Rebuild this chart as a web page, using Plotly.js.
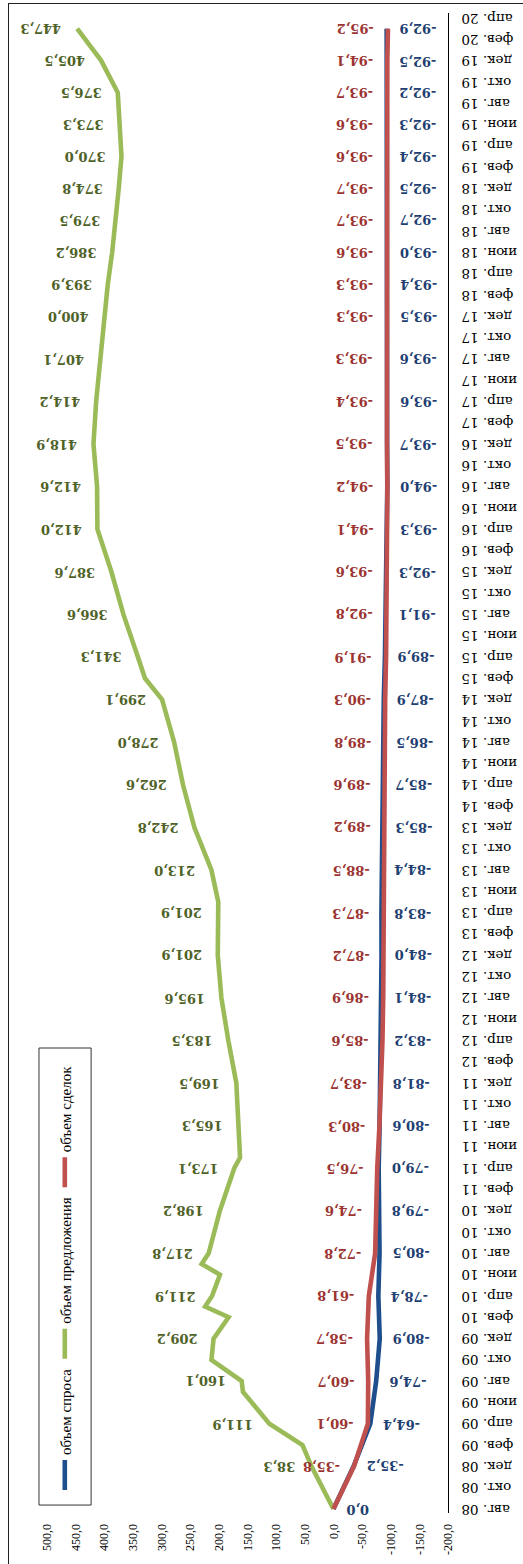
<!DOCTYPE html>
<html>
<head>
<meta charset="utf-8">
<script src="https://cdn.plot.ly/plotly-3.0.1.min.js"></script>
<style>
  html, body { margin: 0; padding: 0; background: #fff; overflow: hidden; }
  #frame {
    position: absolute; left: 8px; top: 3px; width: 600px; height: 1700px;
    border-left: 1.5px solid #222; border-top: 1.5px solid #222;
    pointer-events: none; z-index: 2;
  }
  /* the chart is laid out landscape and turned a quarter turn counter-clockwise */
  #chart {
    position: absolute; left: 0; top: 0; width: 1564px; height: 523px;
    transform-origin: 0 0; transform: translate(0, 1564px) rotate(-90deg);
  }
</style>
</head>
<body>
<div id="frame"></div>
<div id="chart"></div>
<script>
// Category labels of the time axis, one every two months from Aug 2008 to Apr 2020
const tickLabels = [
  "авг. 08","окт. 08","дек. 08",
  "фев. 09","апр. 09","июн. 09","авг. 09","окт. 09","дек. 09",
  "фев. 10","апр. 10","июн. 10","авг. 10","окт. 10","дек. 10",
  "фев. 11","апр. 11","июн. 11","авг. 11","окт. 11","дек. 11",
  "фев. 12","апр. 12","июн. 12","авг. 12","окт. 12","дек. 12",
  "фев. 13","апр. 13","июн. 13","авг. 13","окт. 13","дек. 13",
  "фев. 14","апр. 14","июн. 14","авг. 14","окт. 14","дек. 14",
  "фев. 15","апр. 15","июн. 15","авг. 15","окт. 15","дек. 15",
  "фев. 16","апр. 16","июн. 16","авг. 16","окт. 16","дек. 16",
  "фев. 17","апр. 17","июн. 17","авг. 17","окт. 17","дек. 17",
  "фев. 18","апр. 18","июн. 18","авг. 18","окт. 18","дек. 18",
  "фев. 19","апр. 19","июн. 19","авг. 19","окт. 19","дек. 19",
  "фев. 20","апр. 20"
];

// Value axis ticks
const valueTicks = [-200, -150, -100, -50, 0, 50, 100, 150, 200, 250, 300, 350, 400, 450, 500];
const valueTickText = ["-200,0","-150,0","-100,0","-50,0","0,0","50,0","100,0","150,0","200,0","250,0","300,0","350,0","400,0","450,0","500,0"];

// Months (counted from Aug 2008) of the observations that carry value labels
const pointMonths = [0,4,8,12,16,20,24,28,32,36,40,44,48,52,56,60,64,68,72,76,80,84,88,92,96,100,104,108,
                     112,115,118,121,124,127,130,133,136,139];

// объем спроса
const demandValues = [0,-35.2,-64.4,-74.6,-80.9,-78.4,-80.5,-79.8,-79.0,-80.6,-81.8,-83.2,-84.1,-84.0,-83.8,-84.4,
                      -85.3,-85.7,-86.5,-87.9,-89.9,-91.1,-92.3,-93.3,-94.0,-93.7,-93.6,-93.6,-93.5,-93.4,-93.0,
                      -92.7,-92.5,-92.4,-92.3,-92.2,-92.5,-92.9];

// объем сделок
const dealsValues = [0,-35.8,-60.1,-60.7,-58.7,-61.8,-72.8,-74.6,-76.5,-80.3,-83.7,-85.6,-86.9,-87.2,-87.3,-88.5,
                     -89.2,-89.6,-89.8,-90.3,-91.9,-92.8,-93.6,-94.1,-94.2,-93.5,-93.4,-93.3,-93.3,-93.3,-93.6,
                     -93.7,-93.7,-93.6,-93.6,-93.7,-94.1,-95.2];

// объем предложения (includes the intermediate months between labelled points)
const supplyMonths = [0,4,6,8,11,12,14,16,18,19,20,22,23,24,28,32,33,36,40,44,48,52,56,57,60,64,68,72,76,78,80,
                      84,88,92,96,100,104,108,112,115,118,121,124,127,130,133,136,139];
const supplyValues = [0,38.3,54,111.9,158,160.1,213,209.2,183,224,211.9,198,230,217.8,198.2,173.1,163,165.3,169.5,
                      183.5,195.6,201.9,201.9,201,213.0,242.8,262.6,278.0,299.1,329,341.3,366.6,387.6,412.0,412.6,
                      418.9,414.2,407.1,400.0,393.9,386.2,379.5,374.8,370.0,373.3,376.5,405.5,447.3];

const seriesNames = ["объем спроса", "объем предложения", "объем сделок"];
const lineColors = ["#1F4E8C", "#9BBB59", "#C0504D"];
const labelColors = ["#1F3F73", "#4F6228", "#9B3431"];

function fmt(v) {
  return v.toFixed(1).replace(".", ",");
}

const traces = [
  { x: pointMonths, y: demandValues, name: seriesNames[0] },
  { x: supplyMonths, y: supplyValues, name: seriesNames[1] },
  { x: pointMonths, y: dealsValues, name: seriesNames[2] }
].map((t, i) => Object.assign(t, {
  type: "scatter", mode: "lines", hoverinfo: "skip",
  line: { color: lineColors[i], width: 4.6 }
}));

const labelFont = (c) => ({ family: "DejaVu Serif", size: 13, color: c, weight: "bold" });
const annotations = [];

// demand labels sit on the low-value side of the line
pointMonths.forEach((m, i) => {
  annotations.push({
    x: m, y: demandValues[i], xref: "x", yref: "y", text: fmt(demandValues[i]),
    showarrow: false, textangle: -90, xanchor: "center", yanchor: "top", yshift: -11,
    font: labelFont(labelColors[0])
  });
});
// deals labels on the high-value side
pointMonths.forEach((m, i) => {
  if (i === 0) return;
  annotations.push({
    x: m, y: dealsValues[i], xref: "x", yref: "y", text: fmt(dealsValues[i]),
    showarrow: false, textangle: -90, xanchor: "center", yanchor: "bottom", yshift: 12,
    font: labelFont(labelColors[2])
  });
});
// supply labels only at the labelled months
supplyMonths.forEach((m, i) => {
  if (i === 0 || pointMonths.indexOf(m) < 0) return;
  annotations.push({
    x: m, y: supplyValues[i], xref: "x", yref: "y", text: fmt(supplyValues[i]),
    showarrow: false, textangle: -90, xanchor: "center", yanchor: "bottom", yshift: 14,
    font: labelFont(labelColors[1])
  });
});

const tickMonths = tickLabels.map((_, i) => i * 2);

const layout = {
  width: 1564, height: 523,
  margin: { l: 51, r: 13, t: 47, b: 75, pad: 0 },
  paper_bgcolor: "#fff", plot_bgcolor: "#fff",
  showlegend: true,
  xaxis: {
    range: [-0.38, 140.47], tickvals: tickMonths, ticktext: tickLabels, tickangle: -90,
    showgrid: false, zeroline: false, showline: true, linecolor: "#000", linewidth: 1,
    ticks: "", ticklabelstandoff: 7,
    tickfont: { family: "DejaVu Serif", size: 13.5, color: "#000" }
  },
  yaxis: {
    range: [-200, 500], tickvals: valueTicks, ticktext: valueTickText,
    showgrid: false, zeroline: false, showline: false, ticks: "", ticklabelstandoff: 10,
    tickfont: { family: "Liberation Serif", size: 12, color: "#000" }
  },
  legend: {
    orientation: "h", x: 0.012, xanchor: "left", y: 0.955, yanchor: "middle",
    font: { family: "Liberation Serif", size: 15, color: "#000" },
    bgcolor: "rgba(0,0,0,0)", borderwidth: 0, traceorder: "normal", itemwidth: 30
  },
  shapes: [{
    type: "rect", xref: "paper", yref: "paper", layer: "below",
    x0: 0.0053, x1: 0.31, y0: 0.89, y1: 1.02,
    line: { color: "#333", width: 1 }, fillcolor: "rgba(0,0,0,0)"
  }],
  annotations: annotations
};

Plotly.newPlot("chart", traces, layout, { displayModeBar: false, staticPlot: true });
</script>
</body>
</html>
